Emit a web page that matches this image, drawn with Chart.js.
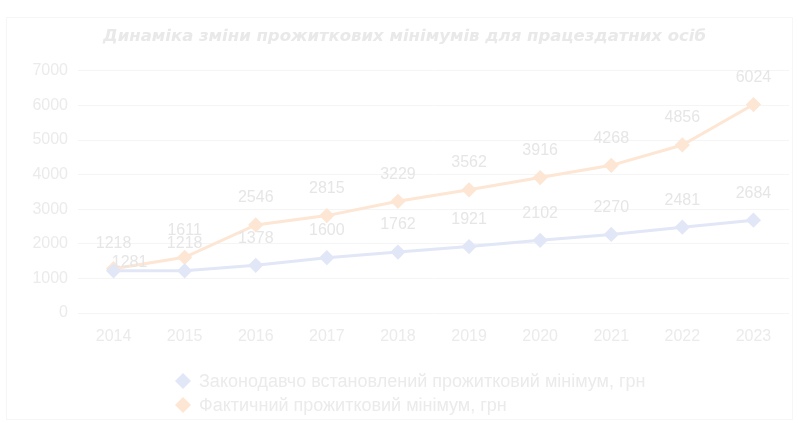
<!DOCTYPE html>
<html>
<head>
<meta charset="utf-8">
<script src="https://cdn.jsdelivr.net/npm/chart.js@4"></script>
<style>
  html, body { margin: 0; padding: 0; background: #fff; }
  #wrap { width: 799px; height: 423px; }
</style>
</head>
<body>
<div id="wrap"><canvas id="myChart" width="799" height="423"></canvas></div>
<script>
const years = ["2014", "2015", "2016", "2017", "2018", "2019", "2020", "2021", "2022", "2023"];
const legalMin = [1218, 1218, 1378, 1600, 1762, 1921, 2102, 2270, 2481, 2684];
const actualMin = [1281, 1611, 2546, 2815, 3229, 3562, 3916, 4268, 4856, 6024];
const yTicks = [0, 1000, 2000, 3000, 4000, 5000, 6000, 7000];
const seriesNames = ["Законодавчо встановлений прожитковий мінімум, грн", "Фактичний прожитковий мінімум, грн"];
const chartTitle = "Динаміка зміни прожиткових мінімумів для працездатних осіб";

const blue = "#e2e7f7";
const orange = "#fde6d3";
const textColor = "#ebebeb";
const font = "'Liberation Sans', Arial, sans-serif";

// faint outer frame + data labels + legend
const extras = {
    id: "extras",
    beforeDraw(chart) {
        const c = chart.ctx;
        c.save();
        c.strokeStyle = "#f6f6f6";
        c.lineWidth = 1;
        c.strokeRect(6.5, 17.5, 786, 402);
        c.restore();
    },
    afterDatasetsDraw(chart) {
        const c = chart.ctx;
        c.save();
        c.font = "16px " + font;
        c.fillStyle = "#e6e6e6";
        c.textAlign = "center";
        c.textBaseline = "middle";
        chart.data.datasets.forEach((ds, di) => {
            chart.getDatasetMeta(di).data.forEach((pt, i) => {
                let dx = 0, dy = -27;
                if (di === 1 && i === 0) { dx = 16; dy = -6; }
                c.fillText(String(ds.data[i]), pt.x + dx, pt.y + dy);
            });
        });
        // legend
        c.textAlign = "left";
        c.font = "18px " + font;
        chart.data.datasets.forEach((ds, di) => {
            const y = 381 + di * 24;
            const x = 183;
            c.fillStyle = ds.borderColor;
            c.beginPath();
            c.moveTo(x, y - 8);
            c.lineTo(x + 8, y);
            c.lineTo(x, y + 8);
            c.lineTo(x - 8, y);
            c.closePath();
            c.fill();
            c.fillStyle = textColor;
            c.fillText(ds.label, x + 16, y + 1);
        });
        c.restore();
    }
};

const ctx = document.querySelector("#myChart");

new Chart(ctx, {
    type: "line",
    data: {
        labels: years,
        datasets: [
            {
                label: seriesNames[0],
                data: legalMin,
                borderColor: blue,
                backgroundColor: blue,
                borderWidth: 3,
                pointStyle: "rectRot",
                pointRadius: 5.5,
                tension: 0
            },
            {
                label: seriesNames[1],
                data: actualMin,
                borderColor: orange,
                backgroundColor: orange,
                borderWidth: 3,
                pointStyle: "rectRot",
                pointRadius: 5.5,
                tension: 0
            }
        ]
    },
    options: {
        responsive: false,
        animation: false,
        layout: { padding: { left: 20, right: 10, top: 0, bottom: 75 } },
        plugins: {
            legend: { display: false },
            tooltip: { enabled: false },
            title: {
                display: true,
                text: chartTitle,
                color: "#e9e9e9",
                font: { family: "'DejaVu Sans', sans-serif", size: 16.5, weight: "bold", style: "italic" },
                padding: { top: 27, bottom: 24 }
            }
        },
        scales: {
            x: {
                offset: true,
                grid: { display: false },
                border: { display: false },
                ticks: { color: textColor, font: { family: font, size: 16 }, padding: 6 },
                afterFit(scale) { scale.height = 35; }
            },
            y: {
                min: 0,
                max: 7000,
                afterBuildTicks(scale) { scale.ticks = yTicks.map(v => ({ value: v })); },
                grid: { color: "#f5f5f5", drawTicks: false },
                border: { display: false },
                ticks: {
                    color: textColor,
                    font: { family: font, size: 16 },
                    padding: 10,
                    callback: (v) => String(v)
                },
                afterFit(scale) { scale.width = 58; }
            }
        }
    },
    plugins: [extras]
});
</script>
</body>
</html>
